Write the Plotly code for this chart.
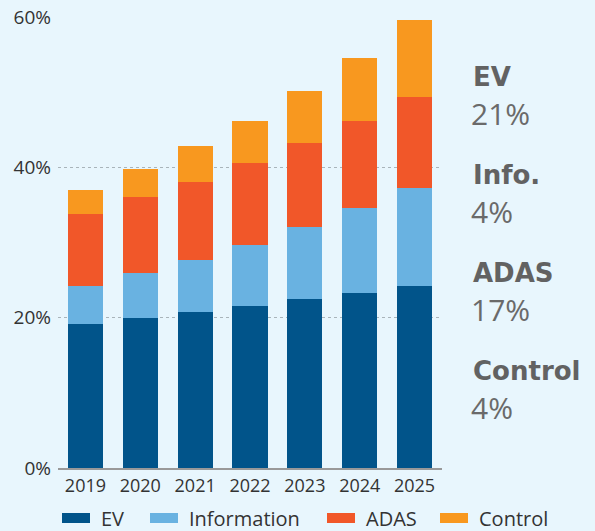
import plotly.graph_objects as go

years = ["2019", "2020", "2021", "2022", "2023", "2024", "2025"]
ev = [19.2, 20.0, 20.8, 21.6, 22.5, 23.3, 24.2]
info = [5.0, 6.0, 6.9, 8.1, 9.6, 11.3, 13.1]
adas = [9.6, 10.0, 10.4, 10.9, 11.2, 11.6, 12.1]
control = [3.2, 3.8, 4.7, 5.6, 6.8, 8.3, 10.2]

series_names = ["EV", "Information", "ADAS", "Control"]
series_vals = [ev, info, adas, control]
colors = ["#01548A", "#69B2E1", "#F15729", "#F8981F"]

side_labels = ["EV", "Info.", "ADAS", "Control"]
side_values = ["21%", "4%", "17%", "4%"]

# layout helpers (pixel positions -> paper coords)
L, R, T, B = 58, 153, 17, 63
W, H = 595, 531
PW, PH = W - L - R, H - T - B


def px(x):
    return (x - L) / PW


def py(y):
    return (H - B - y) / PH


bg = "#E8F6FD"
fig = go.Figure()
for name, vals, c in zip(series_names, series_vals, colors):
    fig.add_trace(go.Bar(x=years, y=vals, name=name, marker=dict(color=c, line=dict(width=0)),
                         showlegend=False))

fig.update_layout(
    barmode="stack",
    bargap=0.36,
    width=W, height=H,
    paper_bgcolor=bg, plot_bgcolor=bg,
    margin=dict(l=L, r=R, t=T, b=B, autoexpand=False),
    font=dict(family="Open Sans", color="#333333", size=16),
    showlegend=False,
    xaxis=dict(showgrid=False, showline=True, linecolor="#999999", linewidth=2,
               tickfont=dict(size=18, color="#333333"), ticks="", fixedrange=True,
               automargin=False),
    yaxis=dict(range=[0, 60], tickvals=[0, 20, 40, 60], ticktext=["0%", "20%", "40%", "60%"],
               showgrid=True, gridcolor="#A9B4BA", griddash="dot", gridwidth=1,
               zeroline=False, showline=False, ticks="", ticklabelstandoff=6,
               tickfont=dict(size=19, color="#333333"), automargin=False, fixedrange=True),
)

# custom legend with wide swatches
legend_x = [62, 150, 327, 440]
for name, c, lx in zip(series_names, colors, legend_x):
    fig.add_shape(type="rect", xref="paper", yref="paper",
                  x0=px(lx), x1=px(lx + 28), y0=py(523), y1=py(513),
                  fillcolor=c, line=dict(width=0))
    fig.add_annotation(text=name, xref="paper", yref="paper", x=px(lx + 37), y=py(518),
                       xanchor="left", yanchor="middle", showarrow=False,
                       font=dict(family="Open Sans", size=20, color="#333333"))

label_y = [77, 175, 273, 371]
value_y = [113, 211, 309, 407]
for lab, val, ly, vy in zip(side_labels, side_values, label_y, value_y):
    fig.add_annotation(text="<b>" + lab + "</b>", xref="paper", yref="paper", x=px(471),
                       y=py(ly), xanchor="left", yanchor="middle", showarrow=False,
                       font=dict(family="DejaVu Sans", size=26, color="#626262"))
    fig.add_annotation(text=val, xref="paper", yref="paper", x=px(469),
                       y=py(vy), xanchor="left", yanchor="middle", showarrow=False,
                       font=dict(family="Open Sans", size=30, color="#6A6A6A"))

fig.write_html("out.html", config={"displayModeBar": False},
               post_script="document.body.style.margin='0';document.body.style.overflow='hidden';")
